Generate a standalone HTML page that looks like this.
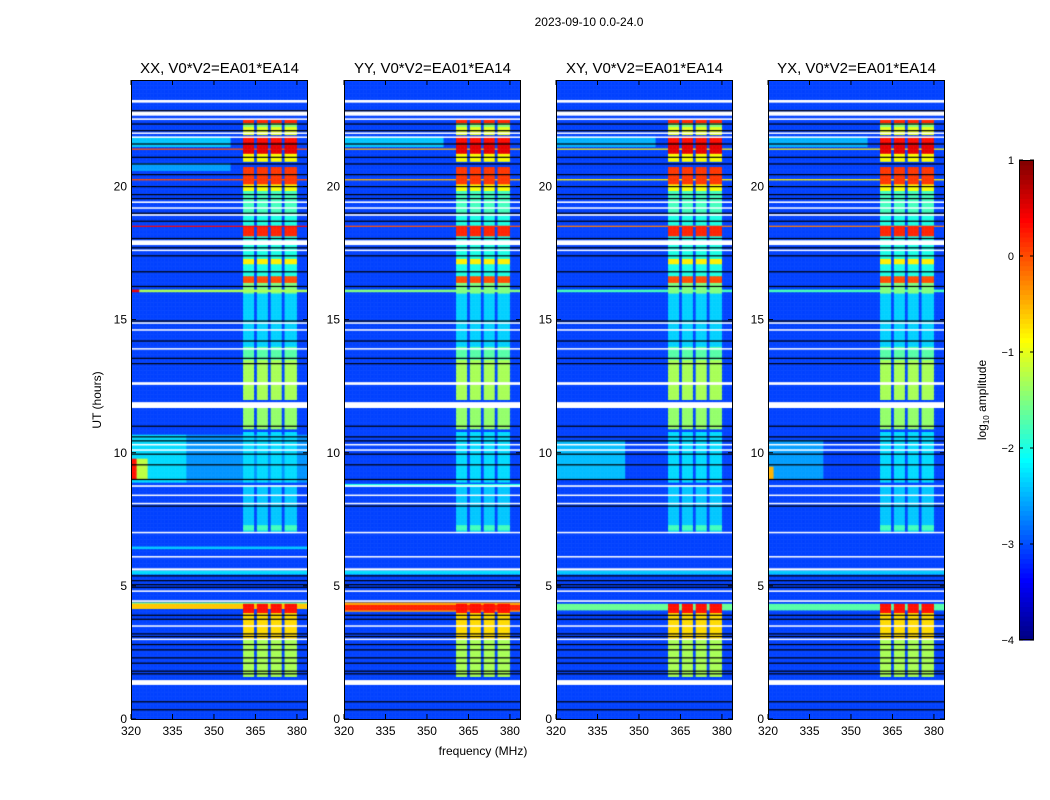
<!DOCTYPE html>
<html><head><meta charset="utf-8">
<style>
body{margin:0;background:#fff;font-family:"Liberation Sans",sans-serif;}
#wrap{position:relative;width:1050px;height:800px;overflow:hidden;background:#fff}
canvas{position:absolute}
svg{position:absolute;left:0;top:0}
</style></head>
<body>
<div id="wrap">
<svg id="ax" width="1050" height="800"></svg>
</div>
<script>
// ---- data ----
const panelTitles = ["XX, V0*V2=EA01*EA14","YY, V0*V2=EA01*EA14","XY, V0*V2=EA01*EA14","YX, V0*V2=EA01*EA14"];
const xTicks = [320,335,350,365,380];
const yTicks = [0,5,10,15,20];
const cbTicks = [1,0,-1,-2,-3,-4];
const baseLevel = -3.05;
const combBlocks = [[360.5,364.6],[365.5,369.6],[370.5,374.6],[375.5,380.2]];
// [h0,h1,logAmp]
const combSegs = [[22.4,22.55,0.2],[22.25,22.4,-1.5],[21.95,22.25,-1.0],[21.7,21.9,0.3],[21.25,21.7,0.5],[20.95,21.25,-0.9],[20.1,20.75,0.1],[19.85,20.1,-0.9],[19.0,19.85,-1.8],[18.15,18.55,0.2],[16.65,19.0,-2.0],[17.1,17.3,-0.8],[16.4,16.65,0.0],[16.0,16.4,-1.5],[14,16,-2.35],[13.5,14,-1.7],[12,13.5,-1.3],[10.9,11.7,-1.4],[8.9,10.8,-2.3],[7.0,8.8,-2.4],[7.1,7.3,-1.8],[4.0,4.35,0.3],[3.0,4.0,-0.7],[1.6,3.0,-1.3]];
// broadband per panel: [h0,h1,f0,f1,logAmp]
const bb1 = [[21.5,21.9,320,356,-2.4],[20.6,20.9,320,356,-2.6],[21.4,21.46,320,384,0.0],[20.25,20.32,320,384,0.0],[18.5,18.56,320,384,0.4],[16.05,16.15,320,384,-1.3],[16.05,16.15,320,323,0.5],[4.17,4.35,320,384,-0.6],[4.35,4.4,320,384,-1.5],[8.9,10.7,340,384,-2.65],[8.9,10.7,320,340,-2.3],[9.0,9.8,320,322,0.3],[9.0,9.8,322,326,-1.2],[5.45,5.6,320,384,-2.3],[6.4,6.5,320,384,-2.4]];
const bb2 = [[21.5,21.9,320,356,-2.4],[21.4,21.46,320,384,-0.5],[20.25,20.32,320,384,-0.5],[18.5,18.56,320,384,0.0],[16.05,16.15,320,384,-1.5],[4.05,4.4,320,384,-0.4],[4.12,4.3,320,384,0.2],[8.75,8.85,320,384,-2.0],[5.45,5.6,320,384,-2.3]];
const bb3 = [[21.5,21.9,320,356,-2.5],[21.4,21.46,320,384,-0.8],[20.25,20.32,320,384,-0.8],[18.5,18.56,320,384,-0.2],[16.05,16.15,320,384,-1.8],[4.1,4.35,320,384,-1.6],[9.0,10.5,320,345,-2.45],[5.45,5.6,320,384,-2.4]];
const bb4 = [[21.5,21.9,320,356,-2.5],[21.4,21.46,320,384,-0.8],[20.25,20.32,320,384,-0.8],[18.5,18.56,320,384,-0.2],[16.05,16.15,320,384,-1.8],[4.1,4.35,320,384,-1.7],[9.0,10.5,320,340,-2.6],[9.0,9.5,320,322,-0.5],[5.45,5.6,320,384,-2.4]];
const broadband = [bb1,bb2,bb3,bb4];
const whiteGaps = [[23.15,23.25],[22.66,22.82],[22.5,22.56],[21.98,22.03],[21.84,21.88],[19.38,19.44],[19.17,19.22],[18.9,18.96],[17.8,17.98],[17.58,17.63],[14.85,14.9],[14.6,14.64],[13.88,13.93],[12.55,12.65],[11.68,11.9],[10.28,10.33],[10.08,10.13],[8.72,8.78],[8.38,8.43],[8.08,8.12],[6.98,7.03],[6.08,6.12],[5.58,5.66],[4.78,4.83],[4.4,4.46],[3.48,3.52],[2.98,3.02],[1.28,1.46]];
const blackLines = [22.85,22.35,22.1,21.6,21.1,20.85,20.45,20.0,19.7,19.55,19.0,18.7,18.05,17.7,17.4,16.8,16.25,14.95,14.2,13.55,13.35,11.0,10.6,10.45,9.95,9.55,9.0,8.0,5.38,5.2,5.05,4.95,3.9,3.75,3.2,3.1,2.8,2.6,2.3,2.1,1.8,1.7,0.65,0.35];

// ---- layout ----
const panelX = [131,344,556,768], PW=177, PT=80, PB=719, PH=PB-PT;
const F0=320, F1=384, H0=0, H1=24;
const xOf=(p,f)=>panelX[p]+(f-F0)/(F1-F0)*PW;
const yOf=h=>PB-(h-H0)/(H1-H0)*PH;
const VMIN=-4, VMAX=1;
function jet(v){let t=(v-VMIN)/(VMAX-VMIN);t=Math.max(0,Math.min(1,t));
 const c=x=>Math.round(255*Math.max(0,Math.min(1,x)));
 return `rgb(${c(1.5-Math.abs(4*t-3))},${c(1.5-Math.abs(4*t-2))},${c(1.5-Math.abs(4*t-1))})`;}
function valueAt(p,h,f){
 let v=baseLevel;
 const inComb=combBlocks.some(b=>f>=b[0]&&f<b[1]);
 if(inComb){for(const s of combSegs){if(h>=s[0]&&h<s[1])v=Math.max(v,s[2]);}}
 for(const s of broadband[p]){if(h>=s[0]&&h<s[1]&&f>=s[2]&&f<s[3])v=Math.max(v,s[4]);}
 return v;}
const wrap=document.getElementById('wrap');
const NS="http://www.w3.org/2000/svg";
const svg=document.getElementById('ax');
function mk(tag,attrs,txt){const e=document.createElementNS(NS,tag);for(const k in attrs)e.setAttribute(k,attrs[k]);if(txt!==undefined)e.textContent=txt;svg.appendChild(e);return e;}

const dh=0.05, df=0.5;
for(let p=0;p<4;p++){
 const cv=document.createElement('canvas');
 cv.width=PW;cv.height=PH;cv.style.left=panelX[p]+'px';cv.style.top=PT+'px';
 
 
 wrap.insertBefore(cv,svg);
 const g=cv.getContext('2d');
 for(let h=H0;h<H1;h+=dh){
  const y1=yOf(h+dh)-PT, y0=yOf(h)-PT;
  for(let f=F0;f<F1;f+=df){
   g.fillStyle=jet(valueAt(p,h+dh/2,f+df/2));
   const xa=xOf(p,f)-panelX[p], xb=xOf(p,f+df)-panelX[p];
   g.fillRect(xa,y1,xb-xa+0.5,y0-y1+0.5);
  }}
 g.fillStyle='#fff';
 for(const w of whiteGaps){const ya=yOf(w[1])-PT,yb=yOf(w[0])-PT;g.fillRect(0,ya,PW,Math.max(1.5,yb-ya));}
 g.fillStyle='#000';
 for(const b of blackLines){g.fillRect(0,yOf(b)-PT-0.5,PW,1.2);}
 const fr=mk('rect',{x:panelX[p]+0.5,y:PT+0.5,width:PW-1,height:PH,fill:'none',stroke:'#000','stroke-width':1});
 
 const t=mk('text',{x:panelX[p]+PW/2,y:PT-7,'text-anchor':'middle','font-size':15},panelTitles[p]);
 
 for(const xt of xTicks){const x=xOf(p,xt);
  mk('line',{x1:x,x2:x,y1:PB,y2:PB-5,stroke:'#000'});mk('line',{x1:x,x2:x,y1:PT,y2:PT+5,stroke:'#000'});
  const l=mk('text',{x:x,y:PB+16,'text-anchor':'middle','font-size':12},String(xt));
  }
 for(const yt of yTicks){const y=yOf(yt);
  mk('line',{x1:panelX[p],x2:panelX[p]+5,y1:y,y2:y,stroke:'#000'});mk('line',{x1:panelX[p]+PW,x2:panelX[p]+PW-5,y1:y,y2:y,stroke:'#000'});
  const l=mk('text',{x:panelX[p]-4,y:y+4,'text-anchor':'end','font-size':12},String(yt));
  }
}
let e;
e=mk('text',{x:589,y:26,'text-anchor':'middle','font-size':12},'2023-09-10 0.0-24.0');

e=mk('text',{x:483,y:755,'text-anchor':'middle','font-size':12},'frequency (MHz)');

e=mk('text',{x:101,y:400,'text-anchor':'middle','font-size':12,transform:'rotate(-90 101 400)'},'UT (hours)');

// colorbar
const CBX=1019,CBW=15,CBT=160,CBB=640;
const cbY=v=>CBB-(v-VMIN)/(VMAX-VMIN)*(CBB-CBT);
const cbG=document.createElementNS(NS,'g');svg.appendChild(cbG);

for(let i=0;i<100;i++){const v=VMIN+i*0.05;const r=document.createElementNS(NS,'rect');
 r.setAttribute('x',CBX);r.setAttribute('y',cbY(v+0.05));r.setAttribute('width',CBW);r.setAttribute('height',(CBB-CBT)/100+0.6);r.setAttribute('fill',jet(v+0.025));cbG.appendChild(r);}
mk('rect',{x:CBX+0.5,y:CBT+0.5,width:CBW-1,height:CBB-CBT-1,fill:'none',stroke:'#000'});
for(const v of cbTicks){const y=cbY(v);
 mk('line',{x1:CBX,x2:CBX+4,y1:y,y2:y,stroke:'#000'});mk('line',{x1:CBX+CBW,x2:CBX+CBW-4,y1:y,y2:y,stroke:'#000'});
 e=mk('text',{x:CBX-5,y:y+4,'text-anchor':'end','font-size':11},v<0?'\u2212'+(-v):String(v));
 }
e=mk('text',{x:986,y:400,'text-anchor':'middle','font-size':12,transform:'rotate(-90 986 400)'});
e.innerHTML='log<tspan font-size="8" dy="3">10</tspan><tspan dy="-3"> amplitude</tspan>';

</script>
</body></html>
